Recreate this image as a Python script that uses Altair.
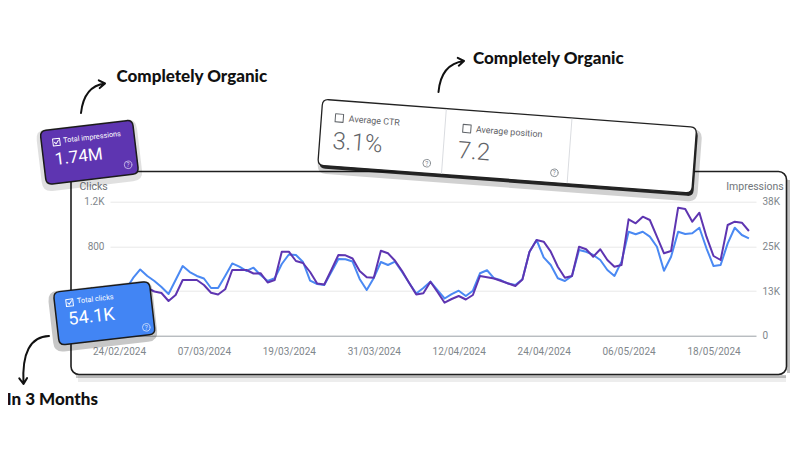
import math
import altair as alt
import pandas as pd

# ---------------- data ----------------
dates = pd.date_range("2024-02-24", periods=90, freq="D").strftime("%Y-%m-%dT00:00:00").tolist()

clicks = [391, 418, 517, 593, 535, 490, 436, 373, 499, 624,
          570, 535, 512, 427, 427, 535, 647, 618, 580, 609,
          544, 490, 514, 642, 727, 723, 660, 494, 463, 454,
          570, 687, 684, 664, 508, 409, 517, 660, 633, 663,
          570, 472, 378, 427, 484, 409, 333, 373, 403, 356,
          403, 559, 586, 514, 496, 467, 454, 505, 752, 857,
          702, 633, 514, 490, 535, 767, 752, 723, 678, 588,
          535, 663, 931, 908, 931, 887, 797, 582, 707, 931,
          911, 917, 967, 783, 624, 633, 827, 967, 902, 872]

impressions = [12392, 12676, 13243, 14094, 13527, 12534, 12109, 9840, 11542, 15795,
               15795, 15795, 14378, 12194, 11683, 13158, 18631, 18631, 18631, 17639,
               17724, 15086, 15795, 23821, 23821, 21183, 20616, 18064, 14803, 14519,
               18631, 22885, 22800, 21892, 18348, 16561, 16448, 24104, 23367, 21240,
               18348, 14945, 11683, 12024, 15313, 12392, 9358, 10407, 11258, 10266,
               11542, 16930, 16561, 16221, 15512, 14803, 14094, 15937, 23821, 27139,
               26657, 23821, 19567, 16448, 16930, 25239, 24501, 22403, 24501, 21467,
               19567, 20049, 33009, 31874, 33746, 32810, 28074, 23367, 24019, 36298,
               35930, 32328, 34880, 28074, 22602, 21467, 31392, 32328, 32045, 29691]

click_ticks = [0, 400, 800, 1200]
impr_ticks = [0, 12667, 25333, 38000]
date_ticks = [(2024, 2, 24), (2024, 3, 7), (2024, 3, 19), (2024, 3, 31),
              (2024, 4, 12), (2024, 4, 24), (2024, 5, 6), (2024, 5, 18)]

# ---------------- layout ----------------
W, H = 646, 134
OX, OY = 110.0, 201.7  # picture position of the plot origin

one = pd.DataFrame({"k": [0]})


def P(x, y):
    return dict(x=alt.value(round(x - OX, 2)), y=alt.value(round(y - OY, 2)))


def place(tl, th, lx, ly):
    t = math.radians(th)
    return (tl[0] + lx * math.cos(t) - ly * math.sin(t),
            tl[1] + lx * math.sin(t) + ly * math.cos(t))


def rrect_path(w, h, r):
    s = w / 2.0
    a, b, q = 1.0, (h / 2.0) / s, r / s
    f = lambda v: f"{v:.4f}"
    return (f"M{f(-a+q)},{f(-b)} L{f(a-q)},{f(-b)} Q{f(a)},{f(-b)} {f(a)},{f(-b+q)} "
            f"L{f(a)},{f(b-q)} Q{f(a)},{f(b)} {f(a-q)},{f(b)} L{f(-a+q)},{f(b)} "
            f"Q{f(-a)},{f(b)} {f(-a)},{f(b-q)} L{f(-a)},{f(-b+q)} Q{f(-a)},{f(-b)} {f(-a+q)},{f(-b)} Z")


def sym(cx, cy, path, size, angle=0.0, fill=None, stroke=None, sw=1.0, opacity=1.0):
    kw = dict(shape=path, size=size, angle=angle % 360, opacity=opacity, strokeCap="round", strokeJoin="round")
    if fill is not None:
        kw.update(filled=True, fill=fill)
    else:
        kw.update(filled=False)
    if stroke is not None:
        kw.update(stroke=stroke, strokeWidth=sw)
    return alt.Chart(one).mark_point(**kw).encode(**P(cx, cy))


def txt(x, y, s, size, color, angle=0.0, weight="normal", font="Roboto", align="left", baseline="middle"):
    return alt.Chart(one).mark_text(text=s, fontSize=size, color=color, angle=angle % 360,
                                    fontWeight=weight, font=font, align=align,
                                    baseline=baseline).encode(**P(x, y))


def card(tl, th, w, h, r, fill, stroke, sw, shadows):
    layers = []
    cx, cy = place(tl, th, w / 2, h / 2)
    for (dw, dh, ddx, ddy, col, op) in shadows:
        layers.append(sym(cx + ddx, cy + ddy, rrect_path(w + dw, h + dh, r + dw / 2),
                          (w + dw) ** 2, th, fill=col, opacity=op))
    layers.append(sym(cx, cy, rrect_path(w, h, r), w ** 2, th, fill=fill, stroke=stroke, sw=sw))
    return layers


BOX = "M-1,-1 L1,-1 L1,1 L-1,1 Z"
CHECK = BOX + " M-0.55,0.0 L-0.12,0.45 L0.6,-0.5"


def help_icon(x, y, color, op=1.0):
    return [sym(x, y, "circle", math.pi * 4.3 ** 2, 0, stroke=color, sw=0.9, opacity=op),
            txt(x, y + 0.3, "?", 6.5, color, align="center")]


def arrow(start, ctrl, end, head=7.0, spread=34.0):
    bx, by = ctrl[0] - end[0], ctrl[1] - end[1]
    n = math.hypot(bx, by)
    bx, by = bx / n, by / n
    t = math.radians(spread)
    w1 = (end[0] + head * (bx * math.cos(t) - by * math.sin(t)),
          end[1] + head * (bx * math.sin(t) + by * math.cos(t)))
    w2 = (end[0] + head * (bx * math.cos(-t) - by * math.sin(-t)),
          end[1] + head * (bx * math.sin(-t) + by * math.cos(-t)))
    pts = [start, ctrl, end, w1, w2]
    xs = [p[0] for p in pts]
    ys = [p[1] for p in pts]
    cx, cy = (min(xs) + max(xs)) / 2, (min(ys) + max(ys)) / 2
    hh = max(max(xs) - min(xs), max(ys) - min(ys)) / 2 + 1
    u = lambda p: f"{(p[0]-cx)/hh:.4f},{(p[1]-cy)/hh:.4f}"
    path = f"M{u(start)} Q{u(ctrl)} {u(end)} M{u(w1)} L{u(end)} L{u(w2)}"
    return sym(cx, cy, path, (2 * hh) ** 2, 0, stroke="#111111", sw=2.0)


# ---------------- main chart ----------------
df = pd.DataFrame({"date": dates, "clicks": clicks, "impressions": impressions})

LABEL = dict(labelFont="Roboto", labelFontSize=10, labelColor="#80868b")
TITLE = dict(titleFont="Roboto", titleFontSize=10.5, titleFontWeight="normal", titleColor="#70757a",
             titleAngle=0, titleBaseline="middle")

xenc = alt.X(
    "date:T",
    scale=alt.Scale(domain=[alt.DateTime(year=2024, month=2, date=22, hours=17, minutes=30),
                            alt.DateTime(year=2024, month=5, date=24)]),
    axis=alt.Axis(values=[alt.DateTime(year=y, month=m, date=d) for (y, m, d) in date_ticks],
                  format="%d/%m/%Y", ticks=False, tickSize=0, labelPadding=11, domain=False,
                  grid=False, labelFlush=False, labelOverlap=False, title="", **LABEL),
)

clicks_line = alt.Chart(df).mark_line(color="#4a89f3", strokeWidth=2, strokeJoin="round").encode(
    x=xenc,
    y=alt.Y("clicks:Q", scale=alt.Scale(domain=[0, 1200], nice=False),
            axis=alt.Axis(orient="left", values=click_ticks,
                          labelExpr="datum.value >= 1000 ? format(datum.value / 1000, '.1f') + 'K' : format(datum.value, 'd')",
                          grid=True,
                          gridColor={"condition": {"test": "datum.value === 0", "value": "#9aa0a6"},
                                     "value": "#e8e8e8"},
                          gridWidth=1, domain=False, ticks=False, tickSize=0, labelPadding=6,
                          title="Clicks", titleAlign="left", titleX=-31, titleY=-15,
                          **LABEL, **TITLE)),
)

impr_line = alt.Chart(df).mark_line(color="#5e35b1", strokeWidth=2, strokeJoin="round").encode(
    x=xenc,
    y=alt.Y("impressions:Q", scale=alt.Scale(domain=[0, 38000], nice=False),
            axis=alt.Axis(orient="right", values=impr_ticks,
                          labelExpr="datum.value == 0 ? '0' : round(datum.value / 1000) + 'K'",
                          grid=False, domain=False, ticks=False, tickSize=0, labelPadding=6,
                          title="Impressions", titleAlign="right", titleX=27.3, titleY=-15,
                          **LABEL, **TITLE)),
)

# ---------------- frame ----------------
frame_layers = [
    alt.Chart(one).mark_rule(color="#000000", strokeWidth=6, opacity=0.07).encode(
        x=alt.value(78 - OX), x2=alt.value(786 - OX), y=alt.value(379 - OY)),
    alt.Chart(one).mark_rule(color="#000000", strokeWidth=3, opacity=0.22).encode(
        x=alt.value(76 - OX), x2=alt.value(786 - OX), y=alt.value(376.5 - OY)),
    alt.Chart(one).mark_rule(color="#000000", strokeWidth=3, opacity=0.25).encode(
        x=alt.value(788.5 - OX), y=alt.value(180 - OY), y2=alt.value(373 - OY)),
    alt.Chart(one).mark_rect(fill="transparent", stroke="#1f1f1f", strokeWidth=1.6, cornerRadius=8).encode(
        x=alt.value(71 - OX), x2=alt.value(786.5 - OX), y=alt.value(171.5 - OY), y2=alt.value(374.5 - OY)),
]

# ---------------- top card (CTR / position) ----------------
TL, TH, TW, THh = (322.7, 99.3), 4.28, 375.0, 66.0
top_layers = card(TL, TH, TW, THh, 6, "#ffffff", "#222222", 1.3,
                  [(6, 6, 2.5, 5.5, "#000000", 0.18), (0, 0, 1.5, 3.2, "#111111", 0.9)])
for lx in (124, 250):
    cx, cy = place(TL, TH, lx, THh / 2)
    top_layers.append(sym(cx, cy, "M0,-1 L0,1", (THh - 2) ** 2, TH, stroke="#dadce0", sw=1))
for (bx, tx, ly, lab, big, vx, hx) in [(18, 27.5, 17.5, "Average CTR", "3.1%", 13, 108.5),
                                         (146, 155, 18.5, "Average position", "7.2", 138.5, 236.5)]:
    cx, cy = place(TL, TH, bx, ly)
    top_layers.append(sym(cx, cy, BOX, 8 ** 2, TH, stroke="#5f6368", sw=1))
    x, y = place(TL, TH, tx, ly)
    top_layers.append(txt(x, y, lab, 9, "#5f6368", TH))
    x, y = place(TL, TH, vx, 41.5)
    top_layers.append(txt(x, y, big, 24, "#5f6368", TH, weight=300))
    x, y = place(TL, TH, hx, 56)
    top_layers += help_icon(x, y, "#80868b")

# ---------------- purple card (impressions) ----------------
PTL, PTH, PW, PH = (40.0, 131.0), -6.8, 93.0, 54.0
purple_layers = card(PTL, PTH, PW, PH, 6, "#5e35b1", "#1b1b1b", 1.5,
                     [(8, 8, 0, 3, "#000000", 0.12)])
cx, cy = place(PTL, PTH, 15, 13)
purple_layers.append(sym(cx, cy, CHECK, 7 ** 2, PTH, stroke="#ffffff", sw=1))
x, y = place(PTL, PTH, 22, 12.5)
purple_layers.append(txt(x, y, "Total impressions", 7.3, "#ffffff", PTH))
x, y = place(PTL, PTH, 11.5, 30.5)
purple_layers.append(txt(x, y, "1.74M", 17, "#ffffff", PTH))
x, y = place(PTL, PTH, 83.5, 44)
purple_layers += help_icon(x, y, "#d7ccf0", 0.9)

# ---------------- blue card (clicks) ----------------
BTL, BTH, BW, BH = (53.3, 292.3), -6.54, 96.6, 53.2
blue_layers = card(BTL, BTH, BW, BH, 6, "#4285f4", "#1b1b1b", 1.5,
                   [(8, 8, -1.5, 3, "#000000", 0.22)])
cx, cy = place(BTL, BTH, 15, 12.2)
blue_layers.append(sym(cx, cy, CHECK, 7 ** 2, BTH, stroke="#ffffff", sw=1))
x, y = place(BTL, BTH, 22.6, 11.7)
blue_layers.append(txt(x, y, "Total clicks", 7.3, "#ffffff", BTH))
x, y = place(BTL, BTH, 12, 29.2)
blue_layers.append(txt(x, y, "54.1K", 18, "#ffffff", BTH))
x, y = place(BTL, BTH, 88.4, 45.4)
blue_layers += help_icon(x, y, "#d6e4fd", 0.9)

# ---------------- annotations ----------------
note_layers = [
    txt(116.5, 82, "Completely Organic", 17, "#111111", weight=900, font="Lato", baseline="alphabetic"),
    txt(473, 64, "Completely Organic", 17, "#111111", weight=900, font="Lato", baseline="alphabetic"),
    txt(6.5, 405, "In 3 Months", 17, "#111111", weight=900, font="Lato", baseline="alphabetic"),
    arrow((81, 113), (84, 86), (105, 83.5)),
    arrow((438.5, 92), (441, 64), (464, 61)),
    arrow((49, 336), (21, 337), (23.5, 384)),
]

chart = alt.layer(
    *frame_layers, clicks_line, impr_line,
    *top_layers, *purple_layers, *blue_layers, *note_layers,
).resolve_scale(y="independent").properties(
    width=W, height=H,
    padding={"left": OX - 8, "top": OY - 8, "right": 784 - (OX - 8) - W, "bottom": 434 - (OY - 8) - H},
    autosize=alt.AutoSizeParams(type="none"),
    background="white",
).configure_view(strokeWidth=0)

chart.save("out.html", embed_options={"renderer": "svg", "actions": False})
